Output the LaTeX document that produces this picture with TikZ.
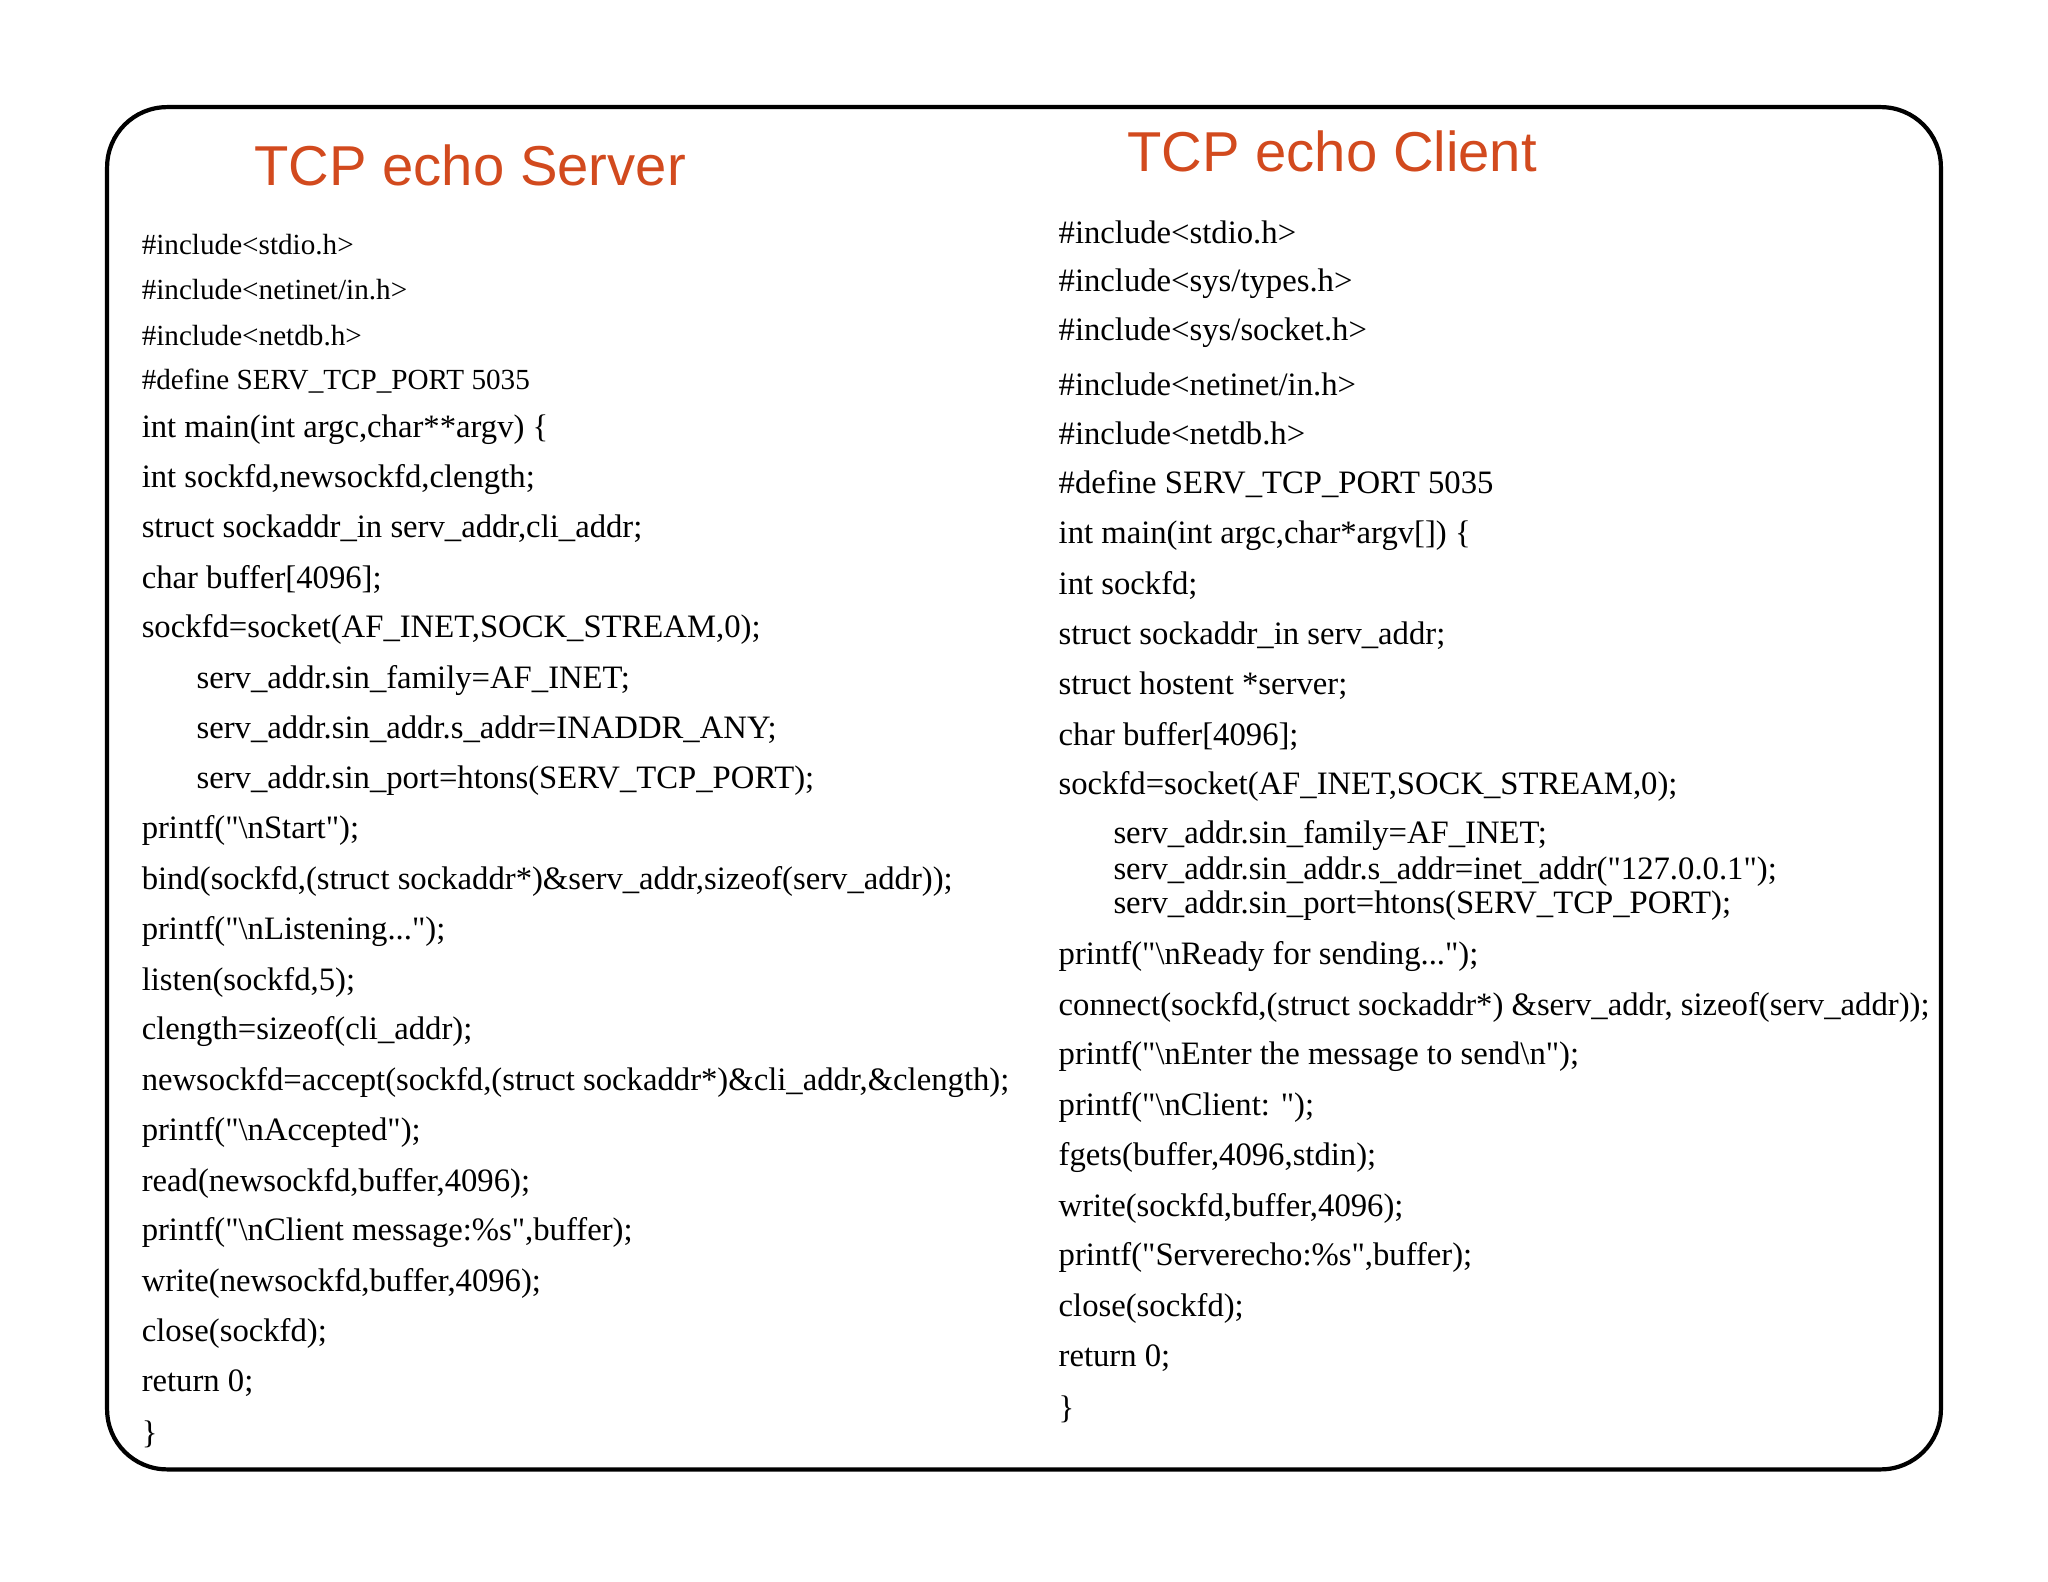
\documentclass[tikz,border=0pt]{standalone}
\usepackage{fontspec}
\setmainfont{Liberation Serif}
\newfontfamily\titlefont{Liberation Sans}
\usepackage{xcolor}
\definecolor{titlered}{HTML}{D24A1E}
\tikzset{
  frame/.style={draw=black,line width=1.2pt,rounded corners=0.6cm},
  heading/.style={font=\titlefont\fontsize{16}{19}\selectfont,text=titlered,inner sep=0pt},
  code/.style={anchor=west,inner sep=0pt,font=\fontsize{9.3}{11}\selectfont},
  smallcode/.style={anchor=west,inner sep=0pt,font=\fontsize{8.3}{10}\selectfont}
}
\newcommand{\bs}{\textbackslash}
\newcommand{\qt}{\textquotedbl}
\begin{document}
\begin{tikzpicture}[x=0.01306cm,y=-0.01306cm]
  \useasboundingbox (0,0) rectangle (1568,1211);
  \draw[frame] (82,82) rectangle (1486,1125);
  % server side
  \node[heading] (st) at (360,127) {TCP echo Server};
  \node[smallcode] (s1) at (108,187) {\#include<stdio.h>};
  \node[smallcode] (s2) at (108,222) {\#include<netinet/in.h>};
  \node[smallcode] (s3) at (108,257) {\#include<netdb.h>};
  \node[smallcode] (s4) at (108,292) {\#define SERV\_TCP\_PORT 5035};
  \node[code] (s5) at (108,329) {int main(int argc,char**argv) \{};
  \node[code] (s6) at (108,367) {int sockfd,newsockfd,clength;};
  \node[code] (s7) at (108,405) {struct sockaddr\_in serv\_addr,cli\_addr;};
  \node[code] (s8) at (108,444) {char buffer[4096];};
  \node[code] (s9) at (108,482) {sockfd=socket(AF\_INET,SOCK\_STREAM,0);};
  \node[code] (s10) at (150,521) {serv\_addr.sin\_family=AF\_INET;};
  \node[code] (s11) at (150,559) {serv\_addr.sin\_addr.s\_addr=INADDR\_ANY;};
  \node[code] (s12) at (150,598) {serv\_addr.sin\_port=htons(SERV\_TCP\_PORT);};
  \node[code] (s13) at (108,636) {printf(\qt\bs nStart\qt);};
  \node[code] (s14) at (108,675) {bind(sockfd,(struct sockaddr*)\&serv\_addr,sizeof(serv\_addr));};
  \node[code] (s15) at (108,713) {printf(\qt\bs nListening...\qt);};
  \node[code] (s16) at (108,752) {listen(sockfd,5);};
  \node[code] (s17) at (108,790) {clength=sizeof(cli\_addr);};
  \node[code] (s18) at (108,829) {newsockfd=accept(sockfd,(struct sockaddr*)\&cli\_addr,\&clength);};
  \node[code] (s19) at (108,867) {printf(\qt\bs nAccepted\qt);};
  \node[code] (s20) at (108,906) {read(newsockfd,buffer,4096);};
  \node[code] (s21) at (108,944) {printf(\qt\bs nClient message:\%s\qt,buffer);};
  \node[code] (s22) at (108,983) {write(newsockfd,buffer,4096);};
  \node[code] (s23) at (108,1021) {close(sockfd);};
  \node[code] (s24) at (108,1059) {return 0;};
  \node[code] (s25) at (108,1098) {\}};
  % client side
  \node[heading] (ct) at (1020,116) {TCP echo Client};
  \node[code] (c1) at (810,178) {\#include<stdio.h>};
  \node[code] (c2) at (810,217) {\#include<sys/types.h>};
  \node[code] (c3) at (810,255) {\#include<sys/socket.h>};
  \node[code] (c4) at (810,294) {\#include<netinet/in.h>};
  \node[code] (c5) at (810,332) {\#include<netdb.h>};
  \node[code] (c6) at (810,371) {\#define SERV\_TCP\_PORT 5035};
  \node[code] (c7) at (810,410) {int main(int argc,char*argv[]) \{};
  \node[code] (c8) at (810,448) {int sockfd;};
  \node[code] (c9) at (810,487) {struct sockaddr\_in serv\_addr;};
  \node[code] (c10) at (810,525) {struct hostent *server;};
  \node[code] (c11) at (810,564) {char buffer[4096];};
  \node[code] (c12) at (810,602) {sockfd=socket(AF\_INET,SOCK\_STREAM,0);};
  \node[code] (c13) at (852,640) {serv\_addr.sin\_family=AF\_INET;};
  \node[code] (c14) at (852,667) {serv\_addr.sin\_addr.s\_addr=inet\_addr(\qt127.0.0.1\qt);};
  \node[code] (c15) at (852,693) {serv\_addr.sin\_port=htons(SERV\_TCP\_PORT);};
  \node[code] (c16) at (810,732) {printf(\qt\bs nReady for sending...\qt);};
  \node[code] (c17) at (810,771) {connect(sockfd,(struct sockaddr*) \&serv\_addr, sizeof(serv\_addr));};
  \node[code] (c18) at (810,809) {printf(\qt\bs nEnter the message to send\bs n\qt);};
  \node[code] (c19) at (810,848) {printf(\qt\bs nClient: \qt);};
  \node[code] (c20) at (810,886) {fgets(buffer,4096,stdin);};
  \node[code] (c21) at (810,925) {write(sockfd,buffer,4096);};
  \node[code] (c22) at (810,963) {printf(\qt Serverecho:\%s\qt,buffer);};
  \node[code] (c23) at (810,1002) {close(sockfd);};
  \node[code] (c24) at (810,1040) {return 0;};
  \node[code] (c25) at (810,1079) {\}};
\end{tikzpicture}
\end{document}
